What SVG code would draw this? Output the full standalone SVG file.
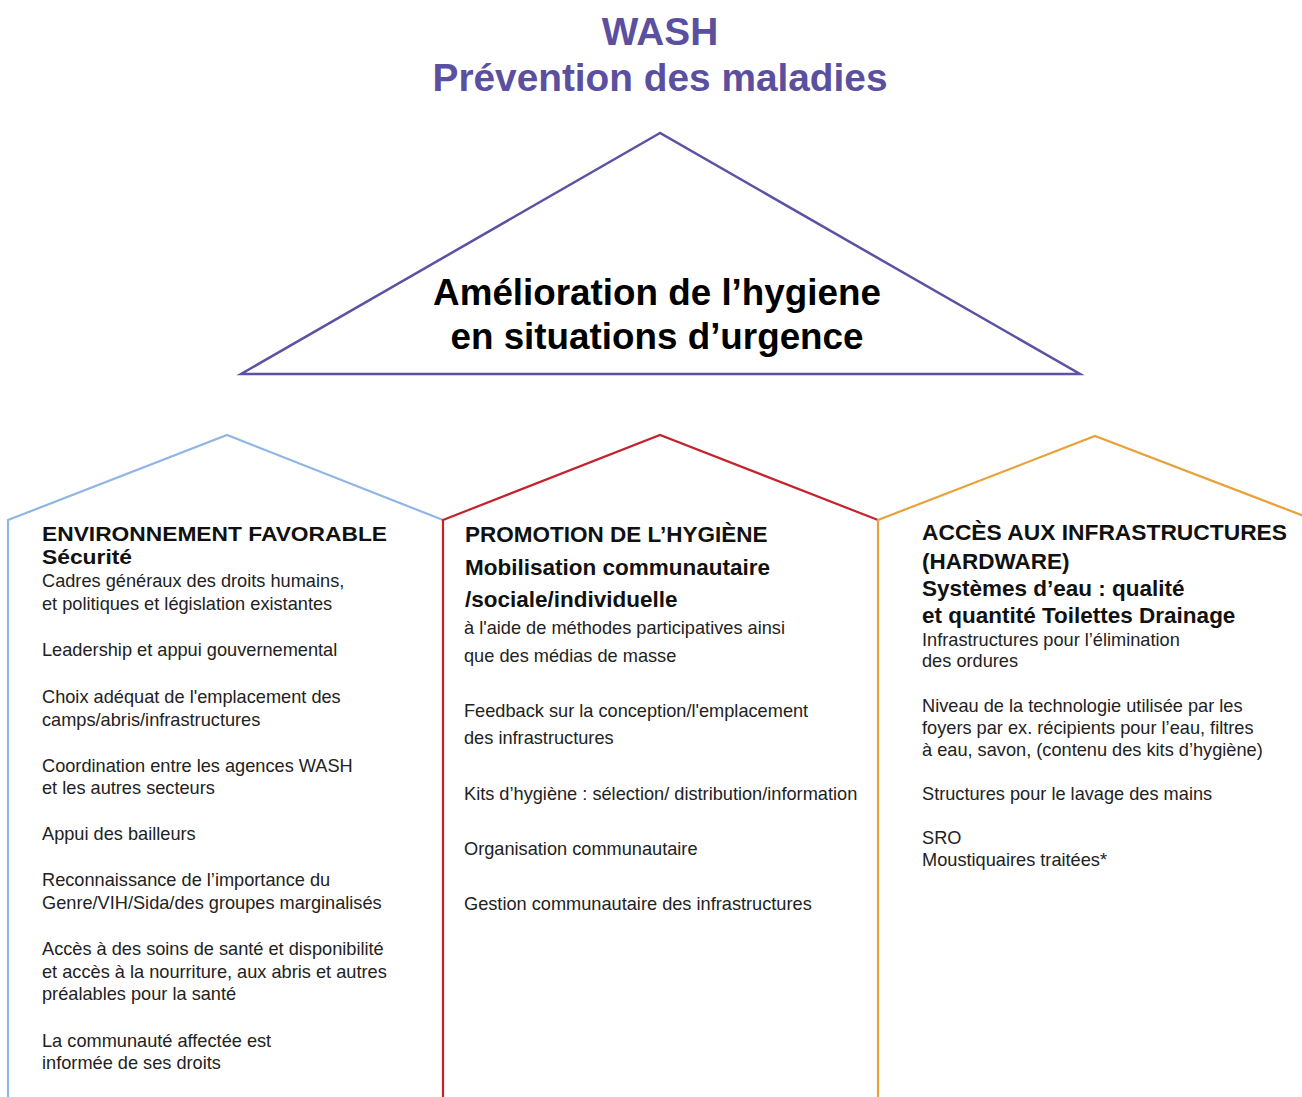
<svg xmlns="http://www.w3.org/2000/svg" width="1302" height="1097" viewBox="0 0 1302 1097">
<style>
text{font-family:"Liberation Sans",Arial,Helvetica,sans-serif;fill:#1a1a1a}
.title{font-size:38.8px;font-weight:bold;fill:#5b4fa0;text-anchor:middle}
.tri{font-size:36.8px;font-weight:bold;fill:#000;text-anchor:middle}
.h{font-size:22.5px;font-weight:bold;fill:#111}
.hs{font-size:20px;font-weight:bold;fill:#111}
.b{font-size:18.2px;fill:#222}
.roof{fill:none;stroke-width:2.2;stroke-linejoin:miter}
</style>
<rect width="1302" height="1097" fill="#fff"/>
<g id="title">
<text class="title" x="660" y="45">WASH</text>
<text class="title" x="660" y="91">Prévention des maladies</text>
</g>
<g id="triangle">
<polygon points="660,133 241,374 1080,374" fill="none" stroke="#5a52a3" stroke-width="2.5"/>
<text class="tri" x="657" y="305">Amélioration de l’hygiene</text>
<text class="tri" x="657" y="349">en situations d’urgence</text>
</g>
<g id="environnement">
<polyline class="roof" stroke="#8fb6e6" points="8,1097 8,520 227,435 443,520"/>
<text class="hs" x="42" y="540.5" textLength="345" lengthAdjust="spacingAndGlyphs">ENVIRONNEMENT FAVORABLE</text>
<text class="hs" x="42" y="564" textLength="90" lengthAdjust="spacingAndGlyphs">Sécurité</text>
<text class="b" x="42" y="587">Cadres généraux des droits humains,</text>
<text class="b" x="42" y="610">et politiques et législation existantes</text>
<text class="b" x="42" y="656">Leadership et appui gouvernemental</text>
<text class="b" x="42" y="703">Choix adéquat de l'emplacement des</text>
<text class="b" x="42" y="726">camps/abris/infrastructures</text>
<text class="b" x="42" y="772">Coordination entre les agences WASH</text>
<text class="b" x="42" y="794">et les autres secteurs</text>
<text class="b" x="42" y="840">Appui des bailleurs</text>
<text class="b" x="42" y="886">Reconnaissance de l’importance du</text>
<text class="b" x="42" y="909">Genre/VIH/Sida/des groupes marginalisés</text>
<text class="b" x="42" y="955">Accès à des soins de santé et disponibilité</text>
<text class="b" x="42" y="978">et accès à la nourriture, aux abris et autres</text>
<text class="b" x="42" y="1000">préalables pour la santé</text>
<text class="b" x="42" y="1047">La communauté affectée est</text>
<text class="b" x="42" y="1069">informée de ses droits</text>
</g>
<g id="promotion">
<polyline class="roof" stroke="#c4232d" points="443,1097 443,520 660,435 878,520"/>
<text class="h" x="465" y="542">PROMOTION DE L’HYGIÈNE</text>
<text class="h" x="465" y="575">Mobilisation communautaire</text>
<text class="h" x="465" y="607">/sociale/individuelle</text>
<text class="b" x="464" y="634">à l'aide de méthodes participatives ainsi</text>
<text class="b" x="464" y="662">que des médias de masse</text>
<text class="b" x="464" y="717">Feedback sur la conception/l'emplacement</text>
<text class="b" x="464" y="744">des infrastructures</text>
<text class="b" x="464" y="800">Kits d’hygiène : sélection/ distribution/information</text>
<text class="b" x="464" y="855">Organisation communautaire</text>
<text class="b" x="464" y="910">Gestion communautaire des infrastructures</text>
</g>
<g id="acces">
<polyline class="roof" stroke="#e9a23b" points="878,1097 878,520 1095,436 1304,516"/>
<text class="h" x="922" y="540" textLength="365" lengthAdjust="spacingAndGlyphs">ACCÈS AUX INFRASTRUCTURES</text>
<text class="h" x="922" y="569">(HARDWARE)</text>
<text class="h" x="922" y="596">Systèmes d’eau : qualité</text>
<text class="h" x="922" y="623">et quantité Toilettes Drainage</text>
<text class="b" x="922" y="646">Infrastructures pour l’élimination</text>
<text class="b" x="922" y="667">des ordures</text>
<text class="b" x="922" y="712">Niveau de la technologie utilisée par les</text>
<text class="b" x="922" y="734">foyers par ex. récipients pour l’eau, filtres</text>
<text class="b" x="922" y="756">à eau, savon, (contenu des kits d’hygiène)</text>
<text class="b" x="922" y="800">Structures pour le lavage des mains</text>
<text class="b" x="922" y="844">SRO</text>
<text class="b" x="922" y="866">Moustiquaires traitées*</text>
</g>
</svg>
